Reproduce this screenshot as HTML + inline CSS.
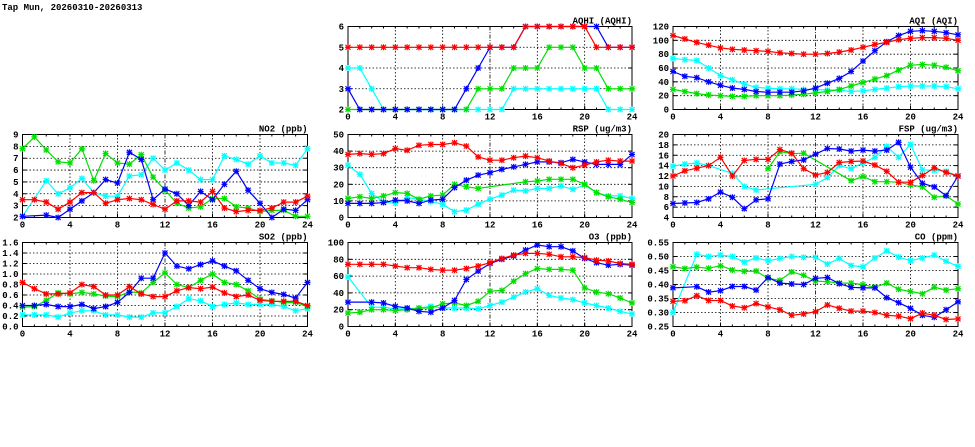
<!DOCTYPE html>
<html><head><meta charset="utf-8"><title>Tap Mun</title>
<style>
html,body{margin:0;padding:0;background:#fff;width:975px;height:447px;overflow:hidden}
svg{display:block}
text{font-family:"Liberation Mono","DejaVu Sans Mono",monospace;font-weight:bold;font-size:9px;fill:#000}
</style></head>
<body>
<svg id="chart" width="975" height="447" viewBox="0 0 975 447" xmlns="http://www.w3.org/2000/svg">
<text x="2" y="10">Tap Mun, 20260310-20260313</text>
</svg>
<script>
const N=null;
const hours=[0,1,2,3,4,5,6,7,8,9,10,11,12,13,14,15,16,17,18,19,20,21,22,23,24];
const xTicks=[0,4,8,12,16,20,24];
const seriesColors=["#ff0000","#00e000","#0000ff","#00ffff"];

const aqhiRed=[5,5,5,5,5,5,5,5,5,5,5,5,5,5,5,6,6,6,6,6,6,5,5,5,5];
const aqhiGreen=[2,2,2,2,2,2,2,2,2,2,2,3,3,3,4,4,4,5,5,5,4,4,3,3,3];
const aqhiBlue=[3,2,2,2,2,2,2,2,2,2,3,4,5,5,5,6,6,6,6,6,6,6,5,5,5];
const aqhiCyan=[4,4,3,2,2,2,2,2,2,2,2,2,2,2,3,3,3,3,3,3,3,3,2,2,2];

const aqiRed=[107,102,97,93,89,87,86,85,84,82,81,80,80,81,83,86,90,94,97,101,103,104,104,103,100];
const aqiGreen=[29,26,23,21,20,19,19,20,20,20,21,22,24,26,29,34,39,44,49,57,64,65,64,61,56];
const aqiBlue=[55,48,46,40,35,31,29,26,25,25,25,27,31,38,45,55,70,85,98,107,113,114,113,111,108];
const aqiCyan=[74,72,71,60,49,43,37,32,31,30,30,29,29,28,28,26,27,29,31,33,34,34,34,33,30];

const no2Red=[3.5,3.5,3.3,2.7,3.3,4.1,4.1,3.2,3.5,3.6,3.5,3.1,2.7,3.4,3.4,3.3,4.2,2.8,2.5,2.6,2.6,2.8,3.3,3.3,3.8];
const no2Green=[7.8,8.8,7.7,6.7,6.6,7.8,5.1,7.4,6.6,6.5,7.3,5.4,4.3,3.2,2.8,2.9,3.6,3.6,2.9,2.8,2.5,2.6,2.6,2.1,2.1];
const no2Blue=[2.1,N,2.2,2.0,2.7,3.4,4.1,5.2,4.9,7.5,6.9,3.5,4.4,4.0,3.0,4.2,3.5,4.8,5.9,4.3,3.2,2.0,2.7,2.6,3.5];
const no2Cyan=[2.1,N,5.1,4.0,4.5,5.3,4.1,3.8,3.8,5.5,5.6,7.0,6.0,6.6,6.0,5.2,5.2,7.2,6.9,6.5,7.2,6.6,6.6,6.4,7.8];

const rspRed=[38,38.5,38,38.5,41.5,40.5,43.5,44,44,45,43,36.5,34.5,34.5,36,37,36,34,32.5,30,31.5,33.5,34.5,34,34];
const rspGreen=[11.5,12.5,11.5,13,15,14.5,11,13,13.5,20,18.5,17.5,N,N,N,21.5,22,23,23,23,20,15,12.5,11,9];
const rspBlue=[8.5,8.5,8.5,9,10.5,10,8.5,10.5,11,18,22.5,25.5,27,29,30.5,32,33.5,33.5,33,35,33.5,32,32,32,38];
const rspCyan=[31.5,26,14.5,9.5,8.5,12,11,9.5,8,3.5,4.5,8,11,13.5,16.5,16,17.5,17.5,19,17,19.5,15,13,13,11.5];

const fspRed=[12,13,13.5,14,15.6,12,15,15.2,15.2,17.1,16.4,13.4,12.2,12.7,14.6,14.8,14.9,14.1,12.9,10.8,10.8,12.1,13.6,12.7,12];
const fspGreen=[N,N,N,N,N,N,N,N,13.4,16.7,16.3,16.4,N,N,N,11.1,11.9,10.9,10.9,10.8,10.3,9.9,7.9,8.2,6.6];
const fspBlue=[6.7,6.8,6.9,7.6,8.9,7.9,5.7,7.4,7.6,14.3,14.8,15.1,16.2,17.3,17.2,16.8,17,16.8,17,18.5,13.7,10.6,9.9,8.2,12];
const fspCyan=[13.9,14.3,14.5,14,N,12.5,10,9.3,N,N,N,N,10.4,11.7,14,13.4,14.5,15.6,17.7,15.6,18.1,13.2,13.1,12.9,12];

const so2Red=[0.84,0.72,0.62,0.62,0.64,0.8,0.76,0.6,0.6,0.76,0.62,0.57,0.57,0.68,0.74,0.72,0.75,0.64,0.57,0.6,0.5,0.48,0.48,0.48,0.4];
const so2Green=[0.37,0.38,0.5,0.64,0.62,0.65,0.62,0.58,0.57,0.66,0.64,0.84,1.02,0.8,0.74,0.88,1.0,0.84,0.8,0.68,0.52,0.49,0.46,0.46,0.38];
const so2Blue=[0.4,0.4,0.42,0.38,0.38,0.42,0.34,0.38,0.46,0.65,0.92,0.92,1.4,1.15,1.1,1.18,1.25,1.15,1.06,0.88,0.72,0.65,0.61,0.54,0.84];
const so2Cyan=[0.22,0.22,0.22,0.18,0.26,0.3,0.3,0.22,0.22,0.18,0.18,0.26,0.26,0.38,0.53,0.49,0.38,0.42,0.45,0.42,0.42,0.42,0.38,0.3,0.34];

const o3Red=[74,74,74,74,72,70,70,68,67,67,69,72,76,81,85,87,87,86,83,83,82,79,78,75,74];
const o3Green=[16,17,20,20,19,20,22,22,27,28,25,30,42,43,54,63,69,68,68,67,46,41,39,34,28];
const o3Blue=[29,N,29,28,24,22,18,17,22,31,56,66,75,80,84,91,97,95,95,90,81,76,73,74,73];
const o3Cyan=[59,N,23,23,21,21,22,24,22,22,22,21,25,29,35,41,45,37,34,32,28,25,22,18,15];

const coRed=[0.34,0.342,0.36,0.343,0.343,0.323,0.317,0.332,0.32,0.31,0.29,0.295,0.303,0.327,0.315,0.305,0.305,0.3,0.29,0.287,0.278,0.298,0.29,0.275,0.277];
const coGreen=[0.463,0.457,0.462,0.458,0.467,0.452,0.447,0.448,0.422,0.415,0.445,0.433,0.412,0.41,0.405,0.405,0.4,0.39,0.405,0.383,0.375,0.367,0.39,0.38,0.385];
const coBlue=[0.388,N,0.392,0.373,0.378,0.393,0.393,0.38,0.425,0.405,0.402,0.4,0.422,0.425,0.403,0.39,0.388,0.388,0.353,0.335,0.315,0.29,0.283,0.31,0.338];
const coCyan=[0.3,N,0.508,0.5,0.505,0.5,0.48,0.495,0.485,0.493,0.5,0.497,0.497,0.473,0.493,0.468,0.463,0.495,0.52,0.498,0.485,0.495,0.505,0.483,0.465];

const aqhiTicks=[2,3,4,5,6];
const aqiTicks=[0,20,40,60,80,100,120];
const no2Ticks=[2,3,4,5,6,7,8,9];
const rspTicks=[0,10,20,30,40,50];
const fspTicks=[4,6,8,10,12,14,16,18,20];
const so2Ticks=[0.0,0.2,0.4,0.6,0.8,1.0,1.2,1.4,1.6];
const o3Ticks=[0,20,40,60,80,100];
const coTicks=[0.25,0.30,0.35,0.40,0.45,0.50,0.55];

const NS="http://www.w3.org/2000/svg";
const svg=document.getElementById('chart');
function mk(tag,attrs,parent){const e=document.createElementNS(NS,tag);for(const k in attrs)e.setAttribute(k,attrs[k]);(parent||svg).appendChild(e);return e;}

const panels=[
 {key:'aqhi',title:'AQHI (AQHI)',x0:348,x1:632,y0:26.5,y1:109.5,ticks:aqhiTicks,dec:0,series:[aqhiRed,aqhiGreen,aqhiBlue,aqhiCyan]},
 {key:'aqi',title:'AQI (AQI)',x0:673,x1:958,y0:26.5,y1:109.5,ticks:aqiTicks,dec:0,series:[aqiRed,aqiGreen,aqiBlue,aqiCyan]},
 {key:'no2',title:'NO2 (ppb)',x0:22.5,x1:307.5,y0:134.5,y1:217.5,ticks:no2Ticks,dec:0,series:[no2Red,no2Green,no2Blue,no2Cyan]},
 {key:'rsp',title:'RSP (ug/m3)',x0:348,x1:632,y0:134.5,y1:217.5,ticks:rspTicks,dec:0,series:[rspRed,rspGreen,rspBlue,rspCyan]},
 {key:'fsp',title:'FSP (ug/m3)',x0:673,x1:958,y0:134.5,y1:217.5,ticks:fspTicks,dec:0,series:[fspRed,fspGreen,fspBlue,fspCyan]},
 {key:'so2',title:'SO2 (ppb)',x0:22.5,x1:307.5,y0:242.5,y1:326.5,ticks:so2Ticks,dec:1,series:[so2Red,so2Green,so2Blue,so2Cyan]},
 {key:'o3',title:'O3 (ppb)',x0:348,x1:632,y0:242.5,y1:326.5,ticks:o3Ticks,dec:0,series:[o3Red,o3Green,o3Blue,o3Cyan]},
 {key:'co',title:'CO (ppm)',x0:673,x1:958,y0:242.5,y1:326.5,ticks:coTicks,dec:2,series:[coRed,coGreen,coBlue,coCyan]}
];
const colorNames=['red','green','blue','cyan'];
const drawOrder=[3,1,2,0];

panels.forEach(p=>{
 const g=mk('g',{});
 
 
 const ymin=p.ticks[0],ymax=p.ticks[p.ticks.length-1];
 const xs=v=>p.x0+(v-0)/24*(p.x1-p.x0);
 const ys=v=>p.y1-(v-ymin)/(ymax-ymin)*(p.y1-p.y0);
 p.ticks.forEach(t=>{
  const y=ys(t);
  if(t!==ymin&&t!==ymax){const l=mk('line',{x1:p.x0,x2:p.x1,y1:y,y2:y,stroke:'#000','stroke-width':0.8,'stroke-dasharray':'1.5,2'},g);
  
  }
  mk('line',{x1:p.x0,x2:p.x0+4,y1:y,y2:y,stroke:'#000'},g);
  mk('line',{x1:p.x1-4,x2:p.x1,y1:y,y2:y,stroke:'#000'},g);
  const tx=mk('text',{x:p.x0-4,y:y+3,'text-anchor':'end'},g);
  tx.textContent=t.toFixed(p.dec);
  
  
 });
 hours.forEach(h=>{const x=xs(h);
  mk('line',{x1:x,x2:x,y1:p.y1,y2:p.y1-2,stroke:'#000'},g);
  mk('line',{x1:x,x2:x,y1:p.y0,y2:p.y0+2,stroke:'#000'},g);});
 xTicks.forEach(t=>{
  const x=xs(t);
  if(t!==0&&t!==24){const l=mk('line',{x1:x,x2:x,y1:p.y0,y2:p.y1,stroke:'#000','stroke-width':0.8,'stroke-dasharray':t===12?'4,1.5,1,1.5':'1.5,2'},g);
  
  }
  mk('line',{x1:x,x2:x,y1:p.y1,y2:p.y1-4,stroke:'#000'},g);
  const tx=mk('text',{x:x,y:p.y1+10,'text-anchor':'middle'},g);
  tx.textContent=String(t);
  
  
 });
 const fr=mk('rect',{x:p.x0,y:p.y0,width:p.x1-p.x0,height:p.y1-p.y0,fill:'none',stroke:'#000','stroke-width':1},g);
 
 
 const tt=mk('text',{x:p.x1,y:p.y0-3,'text-anchor':'end'},g);
 tt.textContent=p.title;
 
 
 drawOrder.forEach(si=>{
  const arr=p.series[si];
  const col=seriesColors[si];
  const pts=[];
  arr.forEach((v,i)=>{if(v!==null)pts.push([xs(hours[i]),ys(v)]);});
  const pl=mk('polyline',{points:pts.map(q=>q[0].toFixed(1)+','+q[1].toFixed(1)).join(' '),fill:'none',stroke:col,'stroke-width':1.2},g);
  
  
  pts.forEach(q=>{
   const m=mk('path',{d:`M${q[0]-2.5},${q[1]-2.5}L${q[0]+2.5},${q[1]+2.5}M${q[0]-2.5},${q[1]+2.5}L${q[0]+2.5},${q[1]-2.5}M${q[0]-3},${q[1]}L${q[0]+3},${q[1]}M${q[0]},${q[1]-3}L${q[0]},${q[1]+3}`,stroke:col,'stroke-width':1.2,fill:'none'},g);
   
   
  });
 });
});
</script>
</body></html>
